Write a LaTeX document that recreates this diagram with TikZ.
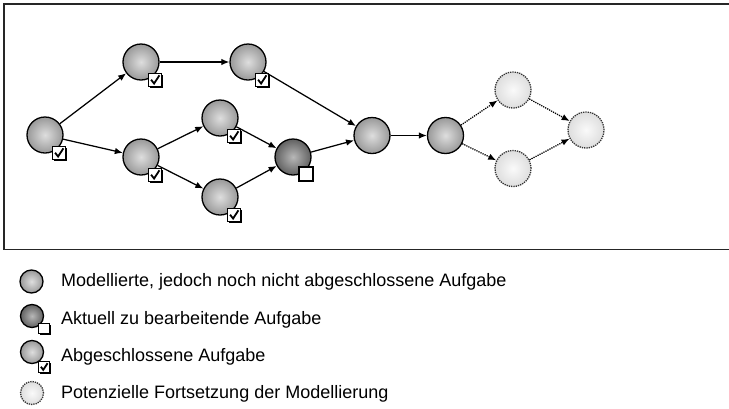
\documentclass[tikz,border=0pt]{standalone}
\usepackage{fontspec}
\setmainfont{Liberation Sans}
\usetikzlibrary{arrows.meta,shadows}

\tikzset{
  task/.style={circle, draw, line width=1.3pt, minimum size=36pt, inner sep=0pt,
    shading=radial, inner color=black!13, outer color=black!40},
  current/.style={task, inner color=black!28, outer color=black!62},
  potential/.style={task, draw=black!80, densely dotted, inner color=black!2, outer color=black!13},
  small/.style={minimum size=23pt},
  flow/.style={-{Latex[length=8pt,width=6.5pt]}, line width=1.25pt},
  maybe/.style={flow, densely dotted},
  tickbox/.style={draw, fill=white, line width=1.4pt, minimum size=#1, inner sep=0pt,
    drop shadow={fill=black, opacity=1, shadow xshift=1.3pt, shadow yshift=-1.3pt}},
  tickbox/.default=12pt,
  legendtext/.style={anchor=west, inner sep=0pt, font=\fontsize{18}{20}\selectfont}
}

% status box at the lower right of a task; #1 = task, #2 = offset, #3 = size, #4 = 1 if done
\newcommand{\statusbox}[4]{%
  \node[tickbox=#3pt] (#1-box) at ([shift={#2}]#1.center) {};
  \ifnum#4=1
    \draw[line width=1.8pt, line join=miter]
      ([shift={(-0.3*#3,-0.02*#3)}]#1-box.center) -- ([shift={(-0.07*#3,0.27*#3)}]#1-box.center)
      -- ([shift={(0.34*#3,-0.36*#3)}]#1-box.center);
  \fi
}

\begin{document}
\begin{tikzpicture}[x=1pt, y=-1pt]
  \useasboundingbox (0,0) rectangle (729,408);

  % frame around the process
  \draw[line width=1.6pt, black!85] (740,4) -- (4,4) -- (4,249.5) -- (740,249.5);

  % tasks
  \node[task] (a) at (45,135) {};
  \node[task] (b1) at (141,62) {};
  \node[task] (c1) at (248,62) {};
  \node[task] (b2) at (141,157) {};
  \node[task] (d1) at (220,118) {};
  \node[task] (d2) at (220,197) {};
  \node[current] (e) at (293,157) {};
  \node[task] (f) at (372,135.5) {};
  \node[task] (g) at (445.5,135.5) {};
  \node[potential] (h1) at (513,90) {};
  \node[potential] (h2) at (513,168.5) {};
  \node[potential] (i) at (586,130) {};

  \statusbox{a}{(14,18)}{13}{1}
  \statusbox{b1}{(14,18)}{13}{1}
  \statusbox{c1}{(14,18)}{13}{1}
  \statusbox{b2}{(14,18)}{13}{1}
  \statusbox{d1}{(14,18)}{13}{1}
  \statusbox{d2}{(14,18)}{13}{1}
  \statusbox{e}{(13,17)}{14}{0}

  \path[flow]
  (a) edge (b1)
      edge (b2)
  (b1) edge (c1)
  (b2) edge (d1)
       edge (d2)
  (d1) edge (e)
  (d2) edge (e)
  (c1) edge (f)
  (e) edge (f)
  (f) edge (g)
  ;
  \path[maybe]
  (g) edge (h1)
      edge (h2)
  (h1) edge (i)
  (h2) edge (i)
  ;

  % legend
  \node[task, small] (l1) at (31.5,281.5) {};
  \node[current, small] (l2) at (32,316) {};
  \node[task, small] (l3) at (32,352) {};
  \node[potential, small] (l4) at (32,393) {};
  \statusbox{l2}{(12,12.5)}{10.5}{0}
  \statusbox{l3}{(12,15)}{10.5}{1}

  \node[legendtext] (t1) at (61,282) {Modellierte, jedoch noch nicht abgeschlossene Aufgabe};
  \node[legendtext] (t2) at (61,320) {Aktuell zu bearbeitende Aufgabe};
  \node[legendtext] (t3) at (61,357) {Abgeschlossene Aufgabe};
  \node[legendtext] (t4) at (61,394) {Potenzielle Fortsetzung der Modellierung};
\end{tikzpicture}
\end{document}
